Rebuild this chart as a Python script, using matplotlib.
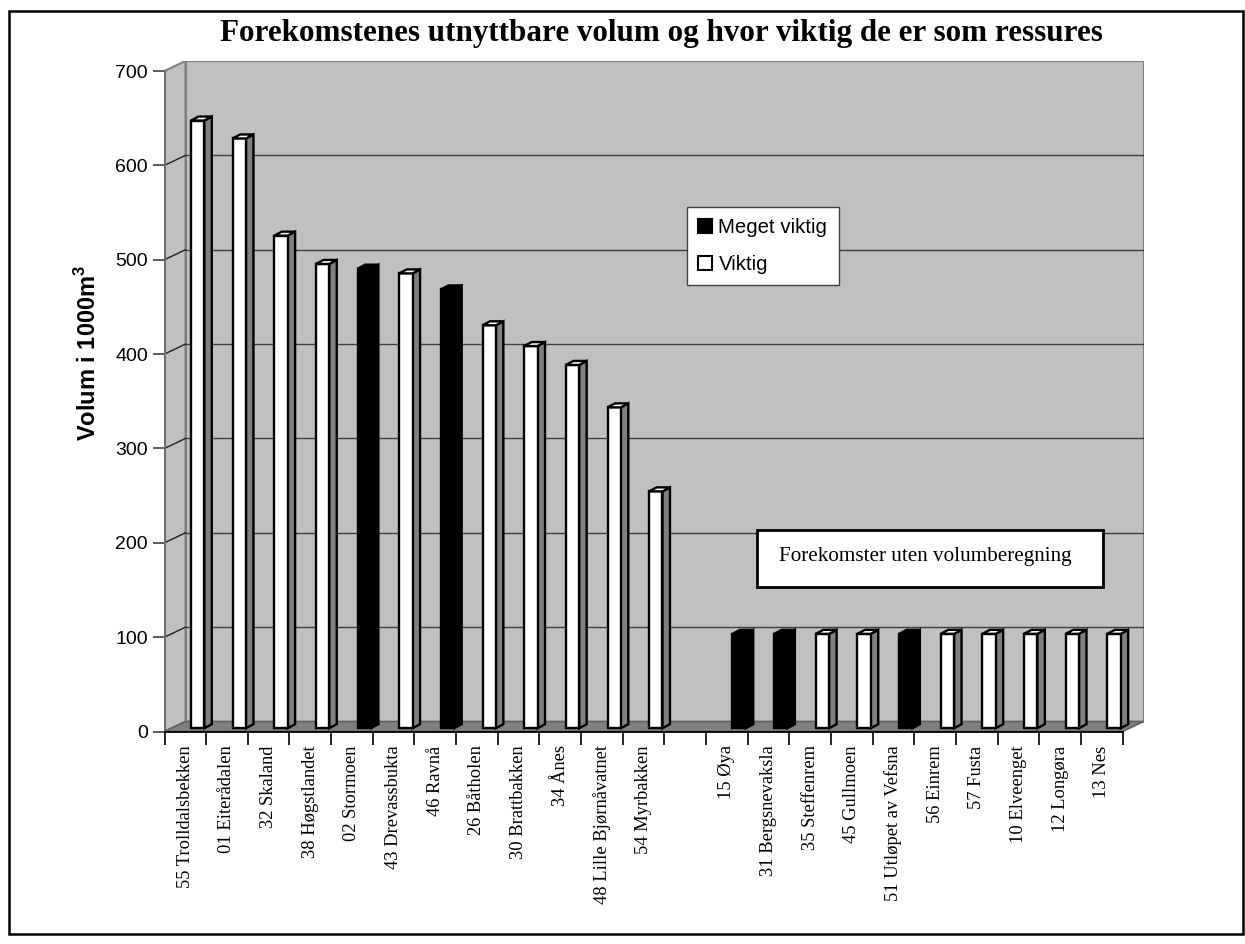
import matplotlib
matplotlib.use("Agg")
import matplotlib.pyplot as plt
from matplotlib.patches import Polygon, Rectangle, Patch

# ---- data ----
group1_names = ["55 Trolldalsbekken", "01 Eiterådalen", "32 Skaland", "38 Høgstlandet",
                "02 Stormoen", "43 Drevassbukta", "46 Ravnå", "26 Båtholen",
                "30 Brattbakken", "34 Ånes", "48 Lille Bjørnåvatnet", "54 Myrbakken"]
group1_values = [644, 625, 522, 492, 487, 482, 465, 427, 405, 385, 340, 251]
group1_meget = [False, False, False, False, True, False, True, False, False, False, False, False]

group2_names = ["15 Øya", "31 Bergsnevaksla", "35 Steffenrem", "45 Gullmoen",
                "51 Utløpet av Vefsna", "56 Einrem", "57 Fusta", "10 Elveenget",
                "12 Longøra", "13 Nes"]
group2_values = [100, 100, 100, 100, 100, 100, 100, 100, 100, 100]
group2_meget = [True, True, False, False, True, False, False, False, False, False]

yticks = [0, 100, 200, 300, 400, 500, 600, 700]
title = "Forekomstenes utnyttbare volum og hvor viktig de er som ressures"
ylabel = "Volum i 1000m$^\\mathregular{3}$"
legend_labels = ["Meget viktig", "Viktig"]
note_text = "Forekomster uten volumberegning"

names = group1_names + [""] + group2_names
values = group1_values + [None] + group2_values
meget = group1_meget + [None] + group2_meget
n = len(names)

SANS = "Liberation Sans"
SERIF = "Liberation Serif"

W, H = 1245, 944
fig = plt.figure(figsize=(W / 100, H / 100), dpi=100)

# pixel geometry of plot region (front axes + 3D depth)
left_px, right_px, bot_px, top_px = 164.5, 1143.5, 731.5, 61.0
DX = 21.0 / ((right_px - left_px - 21.0) / n)        # depth in slot units
ppu = (bot_px - 71.0) / 700.0                          # pixels per value unit
DY = 10.0 / ppu
ax = fig.add_axes([left_px / W, 1 - bot_px / H, (right_px - left_px) / W, (bot_px - top_px) / H])
ax.set_xlim(0, n + DX)
ax.set_ylim(0, 700 + DY)
ax.patch.set_visible(False)

wall = "#c0c0c0"
floor = "#808080"
edge = "#808080"
# back wall
ax.add_patch(Rectangle((DX, DY), n, 700, facecolor=wall, edgecolor=edge, lw=1.5, zorder=1))
# side wall
ax.add_patch(Polygon([(0, 0), (DX, DY), (DX, 700 + DY), (0, 700)], closed=True,
                     facecolor=wall, edgecolor=edge, lw=1.5, zorder=1))
# floor
ax.add_patch(Polygon([(0, 0), (n, 0), (n + DX, DY), (DX, DY)], closed=True,
                     facecolor=floor, edgecolor="#606060", lw=1.2, zorder=2))
# gridlines
for v in yticks[1:-1]:
    ax.plot([DX, n + DX], [v + DY, v + DY], color="#404040", lw=1.0, zorder=1.5)
    ax.plot([0, DX], [v, v + DY], color="#202020", lw=1.0, zorder=1.5)

# bars
slot_px = (right_px - left_px - 21.0) / n
bx = 26.5 / slot_px
bw = 13.3 / slot_px
sdx = 7.5 / slot_px
sdy = 4.0 / ppu
b0 = 3.3 / ppu
for i, (v, m) in enumerate(zip(values, meget)):
    if v is None:
        continue
    x0 = i + bx
    x1 = x0 + bw
    top = b0 + v
    if m:
        fc_front, fc_side, fc_top = "black", "black", "black"
    else:
        fc_front, fc_side, fc_top = "white", "#808080", "white"
    ax.add_patch(Polygon([(x1, b0), (x1 + sdx, b0 + sdy), (x1 + sdx, top + sdy), (x1, top)],
                         closed=True, facecolor=fc_side, edgecolor="black", lw=1.7,
                         joinstyle="miter", zorder=5))
    ax.add_patch(Rectangle((x0, b0), bw, v, facecolor=fc_front, edgecolor="black", lw=1.7,
                           joinstyle="miter", zorder=6))
    ax.add_patch(Polygon([(x0, top), (x1, top), (x1 + sdx, top + sdy), (x0 + sdx, top + sdy)],
                         closed=True, facecolor=fc_top, edgecolor="black", lw=1.7,
                         joinstyle="miter", zorder=7))

# spines and ticks
for s in ["top", "right"]:
    ax.spines[s].set_visible(False)
ax.spines["left"].set_bounds(0, 700)
ax.spines["left"].set_color("#707070")
ax.spines["left"].set_linewidth(1.5)
ax.spines["bottom"].set_bounds(0, n)
ax.spines["bottom"].set_color("black")
ax.spines["bottom"].set_linewidth(1.3)
ax.spines["left"].set_zorder(8)
ax.spines["bottom"].set_zorder(8)

ax.set_yticks(yticks)
ax.set_yticklabels([str(t) for t in yticks], fontfamily=SANS, fontsize=14)
ax.tick_params(axis="y", length=9, width=1.2, color="#404040", pad=3, direction="out")

ax.set_xticks(range(n + 1))
ax.set_xticklabels([""] * (n + 1))
ax.set_xticks([i + 0.5 for i in range(n)], minor=True)
ax.set_xticklabels(names, minor=True, rotation=90, fontfamily=SERIF, fontsize=13.3)
ax.tick_params(axis="x", which="major", length=9, width=1.2, color="black", direction="out")
ax.tick_params(axis="x", which="minor", length=0, pad=10)

# title and y label
fig.text(661 / W, 1 - 33 / H, title, ha="center", va="center", fontfamily=SERIF,
         fontsize=22.4, fontweight="bold")
fig.text(88 / W, 1 - 353 / H, ylabel, ha="center", va="center", rotation=90,
         fontfamily=SANS, fontsize=17, fontweight="bold")

# legend
handles = [Patch(facecolor="black", edgecolor="black", lw=1.5),
           Patch(facecolor="white", edgecolor="black", lw=1.5)]
leg = fig.legend(handles, legend_labels, loc="upper left",
                 bbox_to_anchor=(687 / W, 1 - 207 / H), bbox_transform=fig.transFigure,
                 prop={"family": SANS, "size": 14.8}, frameon=True, fancybox=False,
                 edgecolor="#404040", handlelength=0.68, handleheight=0.68,
                 handletextpad=0.3, labelspacing=0.85, borderpad=0.55, borderaxespad=0)
leg.get_frame().set_linewidth(1.0)
leg.get_frame().set_alpha(1)

# note box
fig.patches.append(Rectangle((757 / W, 1 - 587 / H), (1103 - 757) / W, (587 - 530) / H,
                             transform=fig.transFigure, facecolor="white", edgecolor="black",
                             lw=2, zorder=10))
fig.text(925 / W, 1 - 557 / H, note_text, ha="center", va="center", fontfamily=SERIF,
         fontsize=15.2, zorder=11)

# outer frame
fig.patches.append(Rectangle((8.5 / W, 1 - 934 / H), (1243 - 8.5) / W, (934 - 10.5) / H,
                             transform=fig.transFigure, facecolor="none", edgecolor="black",
                             lw=1.8, zorder=0))

fig.savefig("out.png", dpi=100)
